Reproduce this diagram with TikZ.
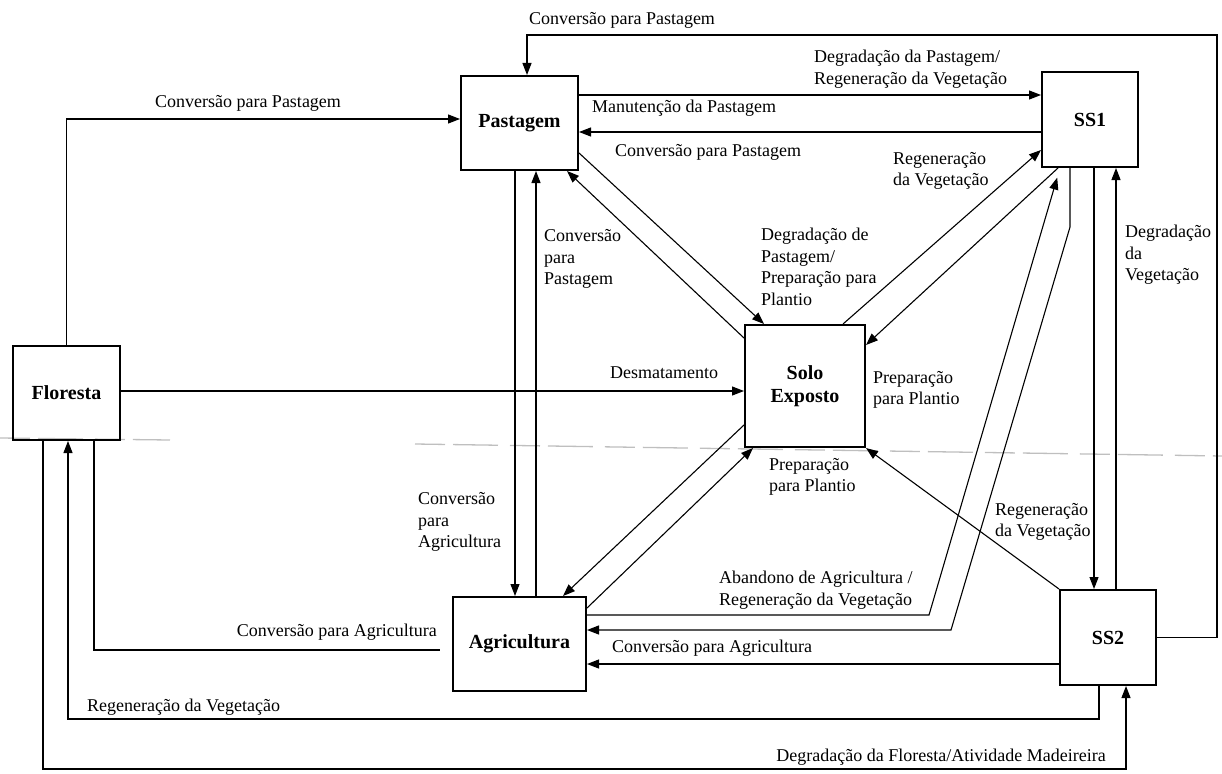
\documentclass[tikz,border=0pt]{standalone}
\usepackage{fontspec}
\setmainfont{Liberation Serif}
\usetikzlibrary{arrows.meta}
\begin{document}
\begin{tikzpicture}[x=1pt,y=-1pt,
  box/.style={draw, line width=2pt, inner sep=0pt, align=center, font=\fontsize{20}{23}\selectfont\bfseries},
  conn/.style={line width=1.1pt, line join=miter},
  arr/.style={conn, -{Triangle[length=12pt,width=9pt]}},
  lbl/.style={inner sep=0pt, align=left, font=\fontsize{18}{21.5}\selectfont},
  scanline/.style={gray!50, line width=1.3pt, dash pattern=on 30pt off 8pt on 45pt off 12pt}]
\useasboundingbox (0,0) rectangle (1222,773);

% scan artefacts
\draw[scanline] (0,438) -- (170,440);
\draw[scanline] (415,444) -- (1222,456);

% boxes
\node[box, minimum width=117pt, minimum height=94pt] (past) at (519.5,123) {Pastagem};
\node[box, minimum width=96pt, minimum height=95pt] (ss1) at (1090,119.5) {SS1};
\node[box, minimum width=96pt, minimum height=95pt] (ss2) at (1108,637.5) {SS2};
\node[box, minimum width=120pt, minimum height=122pt] (solo) at (805,386) {Solo\\Exposto};
\node[box, minimum width=133pt, minimum height=94pt] (agri) at (519.5,644) {Agricultura};
\node[box, minimum width=107pt, minimum height=94pt] (flor) at (66.5,393) {Floresta};
\coordinate (agriend) at (440,650);

% connectors
\draw[arr] (ss2.east) -- (1217,637.5) -- (1217,35) -- (527,35) -- (past.north -| 527,0);
\draw[arr] (flor.north) -- (flor.north |- 0,119) -- (past.west |- 0,119);
\draw[arr] (past.east |- 0,95) -- (ss1.west |- 0,95);
\draw[arr] (ss1.west |- 0,132) -- (past.east |- 0,132);
\draw[arr] (past.east |- 0,153) -- (solo.north -| 764,0);
\draw[arr] (solo.west |- 0,338) -- (past.south -| 567,0);
\draw[arr] (past.south -| 515,0) -- (agri.north -| 515,0);
\draw[arr] (agri.north -| 536,0) -- (past.south -| 536,0);
\draw[arr] (flor.east |- 0,391) -- (solo.west |- 0,391);
\draw[arr] (solo.north -| 843,0) -- (ss1.west |- 0,150);
\draw[arr] (ss1.south -| 1058,0) -- (solo.east |- 0,345);
\draw[arr] (ss1.south -| 1094,0) -- (ss2.north -| 1094,0);
\draw[arr] (ss2.north -| 1116,0) -- (ss1.south -| 1116,0);
\draw[arr, shorten >=10pt] (agri.east |- 0,615) -- (929,615) -- (ss1.south -| 1060,0);
\draw[arr] (ss1.south -| 1070,0) -- (1070,227) -- (951,630) -- (agri.east |- 0,630);
\draw[arr] (ss2.west |- 0,664) -- (agri.east |- 0,664);
\draw[arr] (solo.west |- 0,425) -- (agri.north -| 563,0);
\draw[arr] (agri.east |- 0,608) -- (solo.south -| 753,0);
\draw[arr] (ss2.north west) -- (solo.south east);
\draw[arr] (ss2.south -| 1099,0) -- (1099,719) -- (68,719) -- (flor.south -| 68,0);
\draw[arr] (flor.south -| 43,0) -- (43,769) -- (1126,769) -- (ss2.south -| 1126,0);
\draw[conn] (flor.south -| 94,0) -- (94,650) -- (agriend);

% labels
\node[lbl] (t1) at (622,20) {Conversão para Pastagem};
\node[lbl] (t2) at (248,103) {Conversão para Pastagem};
\node[lbl, anchor=west] (t3) at (814,69) {Degradação da Pastagem/\\Regeneração da Vegetação};
\node[lbl, anchor=west] (t4) at (592,108) {Manutenção da Pastagem};
\node[lbl, anchor=west] (t5) at (615,152) {Conversão para Pastagem};
\node[lbl, anchor=west] (t6) at (893,171) {Regeneração\\da Vegetação};
\node[lbl, anchor=west] (t7) at (544,259) {Conversão\\para\\Pastagem};
\node[lbl, anchor=west] (t8) at (761,267) {Degradação de\\Pastagem/\\Preparação para\\Plantio};
\node[lbl] (t9) at (664,373) {Desmatamento};
\node[lbl, anchor=west] (t10) at (873,390) {Preparação\\para Plantio};
\node[lbl, anchor=west] (t11) at (1125,255) {Degradação\\da\\Vegetação};
\node[lbl, anchor=west] (t12) at (418,522) {Conversão\\para\\Agricultura};
\node[lbl, anchor=west] (t13) at (769,477) {Preparação\\para Plantio};
\node[lbl, anchor=west] (t14) at (995,522) {Regeneração\\da Vegetação};
\node[lbl, anchor=west] (t15) at (719,590) {Abandono de Agricultura /\\Regeneração da Vegetação};
\node[lbl, anchor=west] (t16) at (612,648) {Conversão para Agricultura};
\node[lbl, anchor=east] (t17) at (437,632) {Conversão para Agricultura};
\node[lbl, anchor=west] (t18) at (87,707) {Regeneração da Vegetação};
\node[lbl, anchor=east] (t19) at (1106,757) {Degradação da Floresta/Atividade Madeireira};
\end{tikzpicture}
\end{document}
